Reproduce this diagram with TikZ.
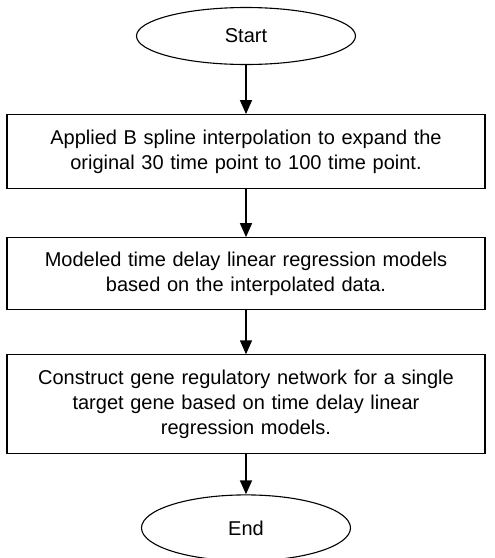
\documentclass[tikz,border=0pt]{standalone}
\usepackage{fontspec}
\setmainfont{Liberation Sans}
\usepackage{tikz}
\usetikzlibrary{positioning, shapes.geometric, arrows.meta}

\begin{document}
\begin{tikzpicture}[x=1pt, y=-1pt, node distance=48pt,
        terminal/.style={draw, ellipse, line width=1.1pt, inner sep=0pt,
            minimum width=219pt, minimum height=57pt,
            font=\fontsize{20}{25}\selectfont},
        stepbox/.style={draw, rectangle, line width=1.1pt, text width=460pt,
            align=center, font=\fontsize{20}{25}\selectfont, minimum width=478pt},
        flow/.style={-{Triangle[length=14pt, width=12pt]}, line width=1.5pt}]
        \useasboundingbox (0,0) rectangle (495,558);
        \node[terminal] (start) at (246,36) {Start};
        \node[stepbox, minimum height=74pt, below=49pt of start] (interp) {Applied B spline interpolation to expand the\\original 30 time point to 100 time point.};
        \node[stepbox, minimum height=72pt, below=48pt of interp] (model) {Modeled time delay linear regression models\\based on the interpolated data.};
        \node[stepbox, minimum height=99pt, below=44pt of model] (network) {Construct gene regulatory network for a single\\target gene based on time delay linear\\regression models.};
        \node[terminal, minimum width=209pt, minimum height=66pt, below=40pt of network] (end) {End};
        \draw[flow] (start) -- (interp);
        \draw[flow] (interp) -- (model);
        \draw[flow] (model) -- (network);
        \draw[flow] (network) -- (end);
    \end{tikzpicture}
\end{document}
